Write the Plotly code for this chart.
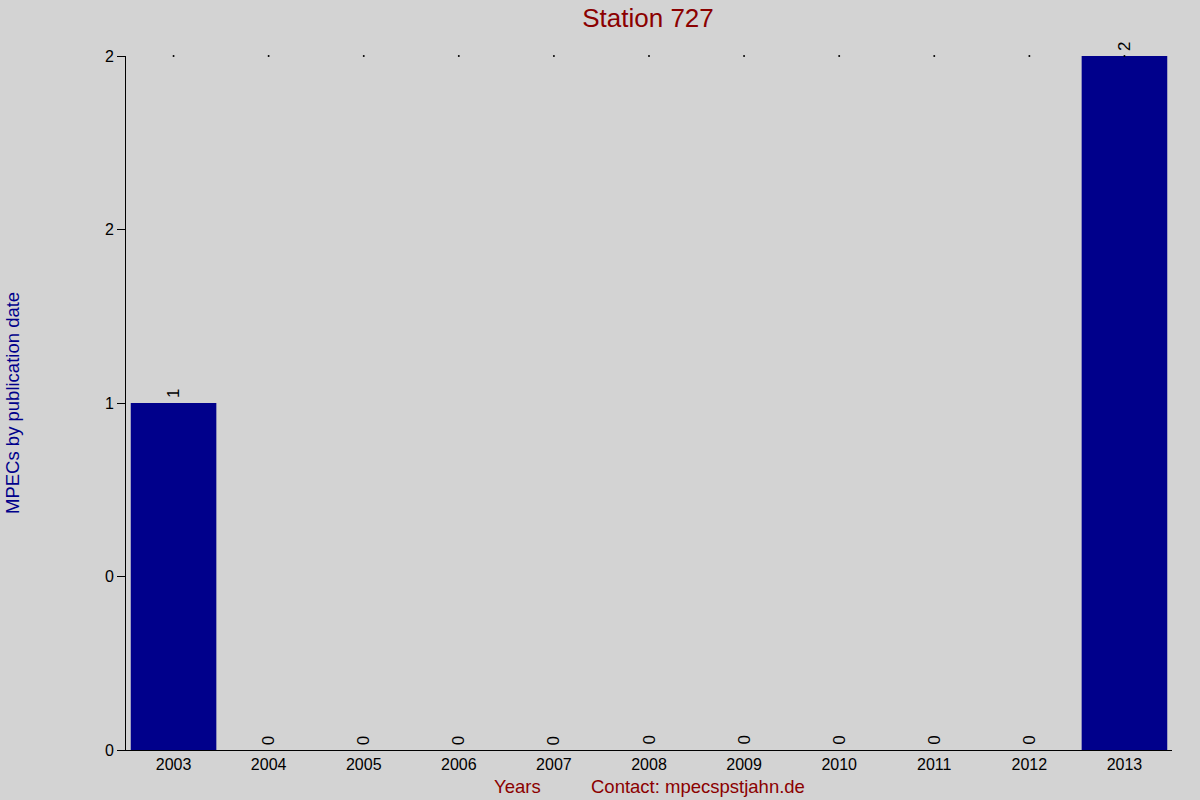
import plotly.graph_objects as go

# MPECs per year for station 727
years = ["2003", "2004", "2005", "2006", "2007", "2008", "2009", "2010", "2011", "2012", "2013"]
counts = [1, 0, 0, 0, 0, 0, 0, 0, 0, 0, 2]

y_tickvals = [0, 0.5, 1, 1.5, 2]
y_ticktext = ["0", "0", "1", "2", "2"]

fig = go.Figure()

# petits points en haut de chaque colonne
fig.add_trace(go.Scatter(
    x=years,
    y=[max(counts)] * len(years),
    mode="markers",
    marker=dict(color="black", size=2),
    hoverinfo="skip",
    cliponaxis=False,
))

fig.add_trace(go.Bar(
    x=years,
    y=counts,
    marker=dict(color="#00008B", line=dict(width=0)),
    width=0.9,
    hoverinfo="x+y",
))

# valeurs au-dessus des barres, tournées de 90° (x = indice de catégorie)
for i, c in enumerate(counts):
    fig.add_annotation(
        x=i, y=c,
        text=str(c),
        textangle=-90,
        xanchor="center", yanchor="bottom",
        yshift=3,
        showarrow=False,
        font=dict(color="black", size=17),
    )

fig.update_layout(
    width=1200,
    height=800,
    paper_bgcolor="#D3D3D3",
    plot_bgcolor="#D3D3D3",
    showlegend=False,
    margin=dict(l=126, r=28, t=56, b=50),
    font=dict(family="Liberation Sans, Arial", color="black", size=16),
    title=dict(
        text="Station 727",
        x=0.54, xanchor="center",
        y=0.978, yanchor="middle",
        font=dict(size=26, color="#8B0000"),
    ),
    xaxis=dict(
        type="category",
        range=[-0.5, 10.5],
        showgrid=False,
        zeroline=False,
        showline=True,
        linecolor="black",
        linewidth=1,
        ticks="",
        tickfont=dict(size=16),
    ),
    yaxis=dict(
        range=[0, 2],
        tickvals=y_tickvals,
        ticktext=y_ticktext,
        showgrid=False,
        zeroline=False,
        showline=True,
        linecolor="black",
        linewidth=1,
        ticks="outside",
        ticklen=8,
        tickcolor="black",
        tickfont=dict(size=16),
    ),
    bargap=0.1,
)

fig.add_annotation(
    text="MPECs by publication date",
    xref="paper", yref="paper",
    x=-0.109, y=0.5,
    xanchor="center", yanchor="middle",
    textangle=-90,
    showarrow=False,
    font=dict(size=18.5, color="#00008B"),
)
fig.add_annotation(
    text="Years",
    xref="paper", yref="paper",
    x=(517 - 126) / 1046, y=-0.052,
    xanchor="center", yanchor="middle",
    showarrow=False,
    font=dict(size=18.5, color="#8B0000"),
)
fig.add_annotation(
    text="Contact: mpecspstjahn.de",
    xref="paper", yref="paper",
    x=(698 - 126) / 1046, y=-0.052,
    xanchor="center", yanchor="middle",
    showarrow=False,
    font=dict(size=18.5, color="#8B0000"),
)

fig.write_html(
    "out.html",
    config={"displayModeBar": False},
    post_script="document.body.style.margin='0';document.body.style.overflow='hidden';",
)
